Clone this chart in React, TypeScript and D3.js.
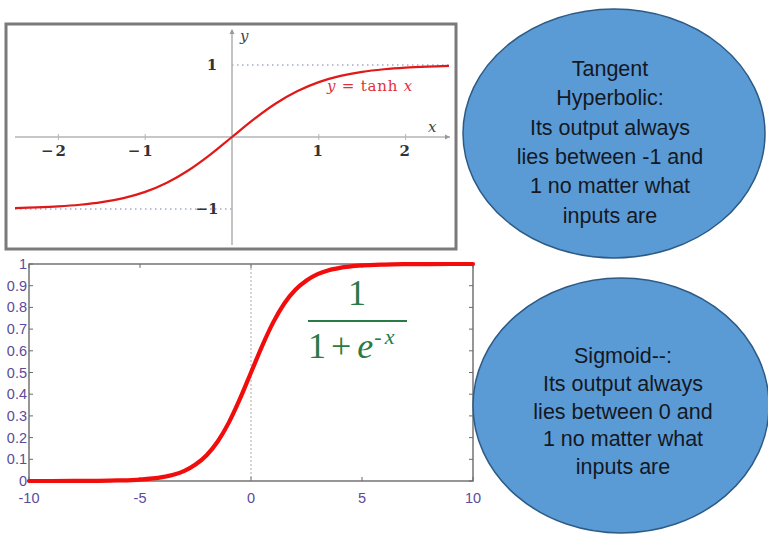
import React from "react";
import * as d3 from "d3";

// tanh samples (x, y)
const tanhX = [-2.5, -2.25, -2, -1.75, -1.5, -1.25, -1, -0.75, -0.5, -0.25, 0, 0.25, 0.5, 0.75, 1, 1.25, 1.5, 1.75, 2, 2.25, 2.5];
const tanhY = [-0.987, -0.978, -0.964, -0.941, -0.905, -0.848, -0.762, -0.635, -0.462, -0.245, 0, 0.245, 0.462, 0.635, 0.762, 0.848, 0.905, 0.941, 0.964, 0.978, 0.987];
const tanhTicks = [-2, -1, 1, 2];

// sigmoid samples (x, y)
const sigX = [-10, -9, -8, -7, -6, -5, -4, -3.5, -3, -2.5, -2, -1.5, -1, -0.5, 0, 0.5, 1, 1.5, 2, 2.5, 3, 3.5, 4, 5, 6, 7, 8, 9, 10];
const sigY = [0.00005, 0.0001, 0.0003, 0.0009, 0.0025, 0.0067, 0.018, 0.029, 0.047, 0.076, 0.119, 0.182, 0.269, 0.378, 0.5, 0.622, 0.731, 0.818, 0.881, 0.924, 0.953, 0.971, 0.982, 0.9933, 0.9975, 0.9991, 0.9997, 0.9999, 0.99995];
const sigXTicks = [-10, -5, 0, 5, 10];
const sigYTicks = [0, 0.1, 0.2, 0.3, 0.4, 0.5, 0.6, 0.7, 0.8, 0.9, 1];

const tanhNote = ["Tangent", "Hyperbolic:", "Its output always", "lies between -1 and", "1 no matter what", "inputs are"];
const sigNote = ["Sigmoid--:", "Its output always", "lies between 0 and", "1 no matter what", "inputs are"];

const SANS = "'Liberation Sans', Arial, sans-serif";
const SERIF = "'Liberation Serif', 'Times New Roman', serif";
const CM = "'DejaVu Serif', serif";

function TanhPanel() {
  const x = d3.scaleLinear().domain([-2.5, 2.5]).range([15, 449]);
  const y = d3.scaleLinear().domain([-1, 1]).range([209, 65]);
  const line = d3
    .line<number>()
    .x((_, i) => x(tanhX[i]))
    .y((d) => y(d))
    .curve(d3.curveCatmullRom);
  const x0 = x(0);
  const y0 = y(0);
  return (
    <g>
      <rect x={6} y={24} width={450} height={225} fill="#fff" stroke="#7a7a7a" strokeWidth={3} />
      {/* asymptotes */}
      <line x1={x0} x2={x(2.5)} y1={y(1)} y2={y(1)} stroke="#6f82b0" strokeWidth={1.2} strokeDasharray="1.5,3.5" />
      <line x1={x(-2.5)} x2={x0} y1={y(-1)} y2={y(-1)} stroke="#6f82b0" strokeWidth={1.2} strokeDasharray="1.5,3.5" />
      {/* axes */}
      <line x1={15} x2={450} y1={y0} y2={y0} stroke="#b4b4b4" strokeWidth={1.6} />
      <path d={`M${450},${y0} l-5,-2.5 l0,5 z`} fill="#999" />
      <line x1={x0} x2={x0} y1={30} y2={245} stroke="#b4b4b4" strokeWidth={1.6} />
      <path d={`M${x0},${29} l-2.5,5 l5,0 z`} fill="#999" />
      {tanhTicks.map((t) => (
        <g key={t}>
          <line x1={x(t)} x2={x(t)} y1={y0 - 3} y2={y0 + 3} stroke="#b4b4b4" strokeWidth={1} />
          <text x={x(t) - (t < 0 ? 4 : 0)} y={y0 + 19} fontFamily={CM} fontSize={15} fontWeight="bold" fill="#333" textAnchor="middle" letterSpacing={2}>
            {t < 0 ? `\u2212${-t}` : t}
          </text>
        </g>
      ))}
      <text x={212} y={y(1) + 5} fontFamily={CM} fontSize={15} fontWeight="bold" fill="#333" textAnchor="middle">1</text>
      <text x={207} y={y(-1) + 5} fontFamily={CM} fontSize={15} fontWeight="bold" fill="#333" textAnchor="middle">{"\u22121"}</text>
      <text x={x0 + 8} y={41} fontFamily={CM} fontSize={15} fontStyle="italic" fill="#444">y</text>
      <text x={428} y={y0 - 5} fontFamily={CM} fontSize={15} fontStyle="italic" fill="#444">x</text>
      <path d={line(tanhY) || ""} fill="none" stroke="#e01818" strokeWidth={2.2} />
      <text x={327} y={91} fontFamily={CM} fontSize={15} fill="#e0303a" letterSpacing={0.8}>
        <tspan fontStyle="italic">y</tspan>
        <tspan> = tanh </tspan>
        <tspan fontStyle="italic">x</tspan>
      </text>
    </g>
  );
}

function SigmoidPanel() {
  const x = d3.scaleLinear().domain([-10, 10]).range([29, 473]);
  const y = d3.scaleLinear().domain([0, 1]).range([481, 264]);
  const line = d3
    .line<number>()
    .x((_, i) => x(sigX[i]))
    .y((d) => y(d))
    .curve(d3.curveMonotoneX);
  const purple = "#5d4a9c";
  return (
    <g>
      <rect x={29} y={264} width={444} height={217} fill="#fff" stroke="#6a6a6a" strokeWidth={1.4} />
      <line x1={x(0)} x2={x(0)} y1={264} y2={481} stroke="#aaa" strokeWidth={1} strokeDasharray="2,2" />
      {sigYTicks.map((t) => (
        <g key={t}>
          <line x1={29} x2={33} y1={y(t)} y2={y(t)} stroke="#6a6a6a" strokeWidth={1} />
          <line x1={469} x2={473} y1={y(t)} y2={y(t)} stroke="#6a6a6a" strokeWidth={1} />
          <text x={27} y={y(t) + 5} fontFamily={SANS} fontSize={14.5} fill={purple} textAnchor="end">{t}</text>
        </g>
      ))}
      {sigXTicks.map((t) => (
        <g key={t}>
          <line x1={x(t)} x2={x(t)} y1={481} y2={477} stroke="#6a6a6a" strokeWidth={1} />
          <line x1={x(t)} x2={x(t)} y1={264} y2={268} stroke="#6a6a6a" strokeWidth={1} />
          <text x={x(t)} y={503} fontFamily={SANS} fontSize={14.5} fill={purple} textAnchor="middle">{t}</text>
        </g>
      ))}
      <path d={line(sigY) || ""} fill="none" stroke="#f20d0d" strokeWidth={4.2} strokeLinecap="round" />
      {/* logistic formula */}
      <text x={357} y={305} fontFamily={SERIF} fontSize={36} fill="#2a7a45" textAnchor="middle">1</text>
      <line x1={308} x2={407} y1={321} y2={321} stroke="#2a7a45" strokeWidth={2} />
      <text x={308} y={358} fontFamily={SERIF} fontSize={36} fill="#2a7a45">
        <tspan>1</tspan>
        <tspan dx={5}>+</tspan>
        <tspan dx={6} fontStyle="italic">e</tspan>
        <tspan dy={-14} dx={1} fontSize={22}>-</tspan>
        <tspan dx={3} fontSize={22} fontStyle="italic">x</tspan>
      </text>
    </g>
  );
}

function Note({ cx, cy, rx, ry, lines, top, step, tx }: { cx: number; cy: number; rx: number; ry: number; lines: string[]; top: number; step: number; tx: number }) {
  return (
    <g>
      <ellipse cx={cx} cy={cy} rx={rx} ry={ry} fill="#5b9bd5" stroke="#2d5b86" strokeWidth={1.5} />
      {lines.map((l, i) => (
        <text key={i} x={tx} y={top + i * step} fontFamily={SANS} fontSize={21.5} fill="#141823" textAnchor="middle" dominantBaseline="central">
          {l}
        </text>
      ))}
    </g>
  );
}

export default function App() {
  return (
    <svg width={768} height={535} style={{ position: "absolute", left: 0, top: 0, background: "#fff" }}>
      <rect width={768} height={535} fill="#fff" />
      <TanhPanel />
      <SigmoidPanel />
      <Note cx={614} cy={133.5} rx={151} ry={124.5} lines={tanhNote} top={69} step={29.3} tx={610} />
      <Note cx={621} cy={405.5} rx={148} ry={127.5} lines={sigNote} top={356} step={27.8} tx={623} />
    </svg>
  );
}
